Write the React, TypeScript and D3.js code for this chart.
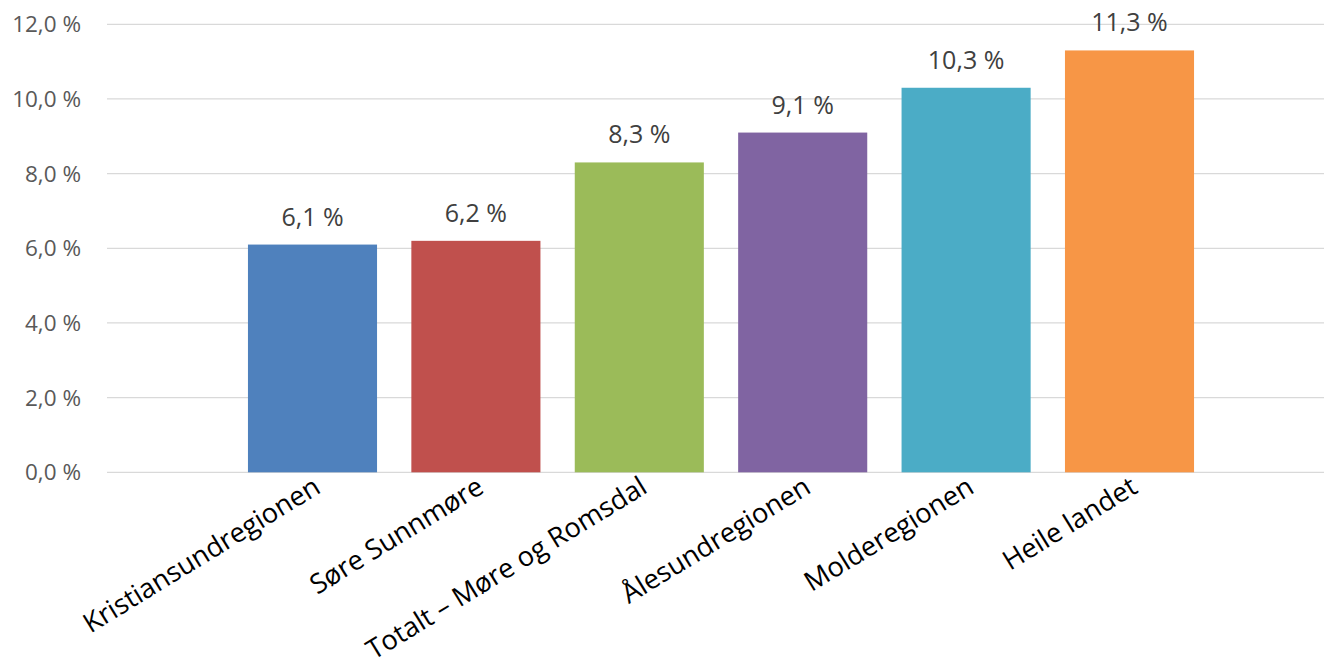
import React from "react";
import * as d3 from "d3";

const categories = [
  "Kristiansundregionen",
  "Søre Sunnmøre",
  "Totalt – Møre og Romsdal",
  "Ålesundregionen",
  "Molderegionen",
  "Heile landet",
];
const values = [6.1, 6.2, 8.3, 9.1, 10.3, 11.3];
const colors = ["#4F81BD", "#C0504D", "#9BBB59", "#8064A2", "#4BACC6", "#F79646"];
const yTicks = [0, 2, 4, 6, 8, 10, 12];

const W = 1324;
const H = 666;
const FONT = "'Open Sans', 'Noto Sans', sans-serif";

const fmt = (v: number, d: number) => v.toFixed(d).replace(".", ",") + " %";

export default function App() {
  const x = d3
    .scaleBand<string>()
    .domain(categories)
    .range([230.8, 1211.2])
    .paddingInner(0.21)
    .paddingOuter(0.105);
  const y = d3.scaleLinear().domain([0, 12]).range([472.3, 24.3]);

  return (
    <svg
      width={W}
      height={H}
      style={{ position: "absolute", left: 0, top: 0, background: "#fff" }}
      fontFamily={FONT}
    >
      <rect x={0} y={0} width={W} height={H} fill="#fff" />
      {yTicks.map((t) => (
        <g key={t}>
          <line x1={107} x2={W} y1={y(t)} y2={y(t)} stroke="#D9D9D9" strokeWidth={1.3} />
          <text
            x={81}
            y={y(t)}
            dy="0.36em"
            textAnchor="end"
            fontSize={22.5}
            fill="#595959"
          >
            {fmt(t, 1)}
          </text>
        </g>
      ))}
      {categories.map((c, i) => {
        const bx = x(c)!;
        const bw = x.bandwidth();
        const cx = bx + bw / 2;
        return (
          <g key={c}>
            <rect x={bx} y={y(values[i])} width={bw} height={y(0) - y(values[i])} fill={colors[i]} />
            <text
              x={cx}
              y={y(values[i]) - 19}
              textAnchor="middle"
              fontSize={25}
              fill="#404040"
            >
              {fmt(values[i], 1)}
            </text>
            <text
              transform={`translate(${cx - 1},${y(0) + 2}) rotate(-31.5)`}
              textAnchor="end"
              dy="0.75em"
              fontSize={27.2}
              fill="#000"
            >
              {c}
            </text>
          </g>
        );
      })}
    </svg>
  );
}
